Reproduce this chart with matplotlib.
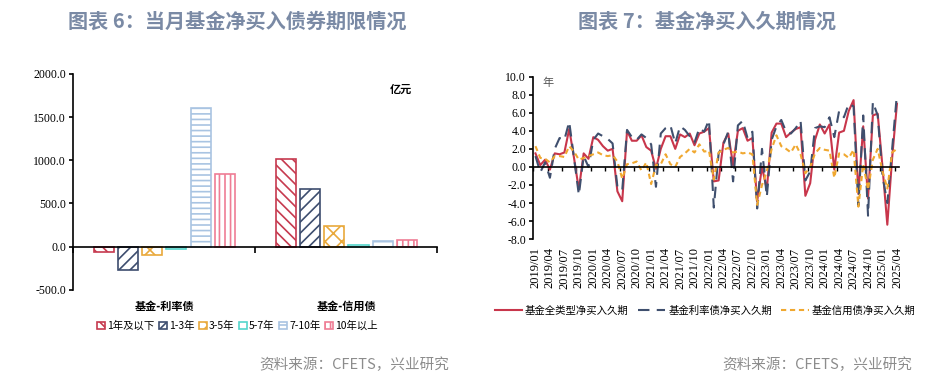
import numpy as np
import matplotlib
matplotlib.use("Agg")
import matplotlib.pyplot as plt
from matplotlib.ticker import FormatStrFormatter, FixedLocator
from matplotlib.patches import Patch

plt.rcParams['font.family'] = ['Noto Sans CJK SC', 'DejaVu Sans']
plt.rcParams['hatch.linewidth'] = 1.2

# ---- left chart data (亿元) ----
groups = ["基金-利率债", "基金-信用债"]
terms = ["1年及以下", "1-3年", "3-5年", "5-7年", "7-10年", "10年以上"]
rate_bond = [-66, -267, -93, -27, 1609, 837]
credit_bond = [1016, 671, 236, 23, 62, 74]

# ---- right chart data (年), monthly 2019/01 .. 2025/04 ----
months = [f"{y}/{m:02d}" for y in range(2019, 2026) for m in range(1, 13)][:76]
dur_all = [1.5, 0.2, 0.8, -0.3, 1.5, 1.4, 1.6, 4.2, 1.0, -2.5,
           1.5, 0.9, 3.3, 3.0, 2.3, 1.8, 2.0, -2.7, -3.8, 4.0,
           2.9, 2.9, 3.5, 2.2, 1.8, -0.2, 2.0, 3.4, 3.4, 2.0,
           3.6, 3.3, 3.7, 2.4, 3.7, 3.9, 4.3, -1.6, -1.5, 2.7,
           3.7, 0.2, 4.0, 4.3, 2.9, 3.2, -3.8, 0.0, -2.5, 3.8,
           4.8, 4.8, 3.3, 3.8, 4.2, 4.4, -3.2, -1.8, 3.0, 4.7,
           3.7, 4.7, -0.3, 3.8, 4.0, 6.2, 7.4, -3.0, 4.5, -3.5,
           5.7, 5.9, 0.0, -6.4, 1.0, 7.0]
dur_rate = [1.2, -0.6, 0.5, -1.2, 2.0, 3.2, 3.0, 5.0, 1.0, -3.1,
            1.2, 0.0, 3.0, 3.7, 3.4, 3.1, 2.6, -2.2, -2.6, 4.1,
            3.3, 3.0, 3.6, 3.2, 2.5, -2.2, 3.7, 4.3, 4.6, 2.6,
            4.5, 4.1, 3.4, 2.7, 4.3, 3.9, 5.2, -4.5, 1.5, 2.5,
            3.9, -1.6, 4.6, 5.1, 3.2, 3.9, -4.6, 2.0, -3.3, 3.0,
            4.5, 5.2, 3.9, 3.7, 4.3, 5.1, -1.5, -0.5, 4.3, 4.5,
            4.4, 5.5, 3.3, 6.2, 5.5, 7.0, 6.7, -4.3, 5.7, -5.4,
            7.2, 5.7, -1.0, -4.0, 2.0, 8.1]
dur_credit = [2.3, 1.0, 0.9, 0.5, 1.2, 1.2, 1.1, 2.3, 1.7, 0.8,
              1.0, 1.2, 1.4, 1.6, 1.3, 1.2, 1.3, 0.6, -1.3, 0.3,
              0.4, 0.6, -0.4, 0.5, -1.9, 0.2, 0.3, 1.4, 0.3, 0.0,
              1.1, 1.5, 2.0, 1.6, 2.5, 1.7, 1.8, -1.4, 1.6, 1.9,
              2.1, 1.6, 1.7, 1.5, 1.6, 1.4, -4.2, -2.0, -0.5, 2.0,
              3.5, 2.3, 2.0, 1.6, 2.5, 1.4, -0.7, 0.0, 1.5, 2.1,
              1.9, 1.8, -1.2, 1.5, 1.4, 1.0, 1.9, -4.4, 0.3, -2.5,
              0.8, 2.0, -0.5, -2.4, 1.6, 2.0]
series_names = ["基金全类型净买入久期", "基金利率债净买入久期", "基金信用债净买入久期"]

title_color = "#7a8aa5"
src_color = "#8c8c8c"
bar_colors = ["#c63a4f", "#3d4d6e", "#e9a93c", "#54d6cc", "#a9c4e2", "#ef7d95"]
bar_hatches = ["\\\\\\", "///", "xx", "", "---", "|||"]
num_font = "Liberation Serif"

fig = plt.figure(figsize=(9.49, 3.87), dpi=100)

fig.text(0.25, 0.945, "图表 6：当月基金净买入债券期限情况", ha="center", va="center",
         fontsize=14.5, fontweight="bold", color=title_color)
fig.text(0.745, 0.945, "图表 7：基金净买入久期情况", ha="center", va="center",
         fontsize=14.5, fontweight="bold", color=title_color)
fig.text(0.473, 0.057, "资料来源：CFETS，兴业研究", ha="right", va="center",
         fontsize=10.5, color=src_color)
fig.text(0.961, 0.057, "资料来源：CFETS，兴业研究", ha="right", va="center",
         fontsize=10.5, color=src_color)

# ---------------- left chart ----------------
ax1 = fig.add_axes([0.077, 0.251, 0.384, 0.558])
x = np.arange(len(groups))
step = 0.133
width = 0.11
handles = []
for k, name in enumerate(terms):
    vals = [rate_bond[k], credit_bond[k]]
    ax1.bar(x + (k - 2.5) * step, vals, width, facecolor="white",
            edgecolor=bar_colors[k], hatch=bar_hatches[k], linewidth=1.2)
    handles.append(Patch(facecolor="white", edgecolor=bar_colors[k],
                         hatch=bar_hatches[k], linewidth=1.2, label=name))
ax1.set_xlim(-0.5, 1.5)
ax1.set_ylim(-500, 2000)
ax1.set_yticks(np.arange(-500, 2001, 500))
ax1.yaxis.set_major_formatter(FormatStrFormatter("%.1f"))
for lab in ax1.get_yticklabels():
    lab.set_fontfamily(num_font)
ax1.tick_params(axis="y", labelsize=8.5, length=3, width=1.2, pad=2)
ax1.spines["top"].set_visible(False)
ax1.spines["right"].set_visible(False)
ax1.spines["left"].set_linewidth(1.2)
ax1.spines["bottom"].set_position(("data", 0))
ax1.spines["bottom"].set_linewidth(1.2)
ax1.xaxis.set_major_locator(FixedLocator([-0.5, 0.5, 1.5]))
ax1.tick_params(axis="x", length=4, width=1.2, labelbottom=False)
sec1 = ax1.secondary_xaxis(0)
sec1.set_xticks(x)
sec1.set_xticklabels(groups, fontsize=8, fontweight="bold")
sec1.tick_params(length=0, pad=7)
sec1.spines["bottom"].set_visible(False)
ax1.text(0.9, 0.93, "亿元", transform=ax1.transAxes, ha="center", va="center",
         fontsize=8, fontweight="bold")
fig.legend(handles=handles, loc="center", bbox_to_anchor=(0.25, 0.158), ncol=6,
           frameon=False, fontsize=7.5, handlelength=0.75, handleheight=0.75,
           handletextpad=0.2, columnspacing=0.45)

# ---------------- right chart ----------------
ax2 = fig.add_axes([0.5617, 0.382, 0.386, 0.42])
t = np.arange(len(months))
ax2.plot(t, dur_all, color="#c8364b", lw=1.5, label=series_names[0])
ax2.plot(t, dur_rate, color="#3f4f6e", lw=1.5, dashes=(5.5, 3.5), label=series_names[1])
ax2.plot(t, dur_credit, color="#f0a830", lw=1.5, dashes=(2.5, 1.8), label=series_names[2])
ax2.set_xlim(-0.5, len(months) - 0.5)
ax2.set_ylim(-8, 10)
ax2.set_yticks(np.arange(-8, 10.1, 2))
ax2.yaxis.set_major_formatter(FormatStrFormatter("%.1f"))
for lab in ax2.get_yticklabels():
    lab.set_fontfamily(num_font)
ax2.tick_params(axis="y", labelsize=8.5, length=3, width=1.2, pad=2)
ax2.spines["top"].set_visible(False)
ax2.spines["right"].set_visible(False)
ax2.spines["left"].set_linewidth(1.2)
ax2.spines["bottom"].set_position(("data", 0))
ax2.spines["bottom"].set_linewidth(1.2)
ax2.xaxis.set_major_locator(FixedLocator(np.arange(-0.5, len(months), 3)))
ax2.tick_params(axis="x", length=3, width=1.0, labelbottom=False)
sec2 = ax2.secondary_xaxis(0)
sec2.set_xticks(t[::3])
sec2.set_xticklabels(months[::3], rotation=90, fontsize=9, fontfamily=num_font)
sec2.tick_params(length=0, pad=6)
sec2.spines["bottom"].set_visible(False)
ax2.text(0.04, 0.96, "年", transform=ax2.transAxes, ha="center", va="center",
         fontsize=8, color="#555555")
fig.legend(handles=ax2.get_lines(), loc="center", bbox_to_anchor=(0.743, 0.198), ncol=3,
           frameon=False, fontsize=7.5, handlelength=2.6, handletextpad=0.3,
           columnspacing=0.9)

fig.savefig("out.png", dpi=100, facecolor="white")
